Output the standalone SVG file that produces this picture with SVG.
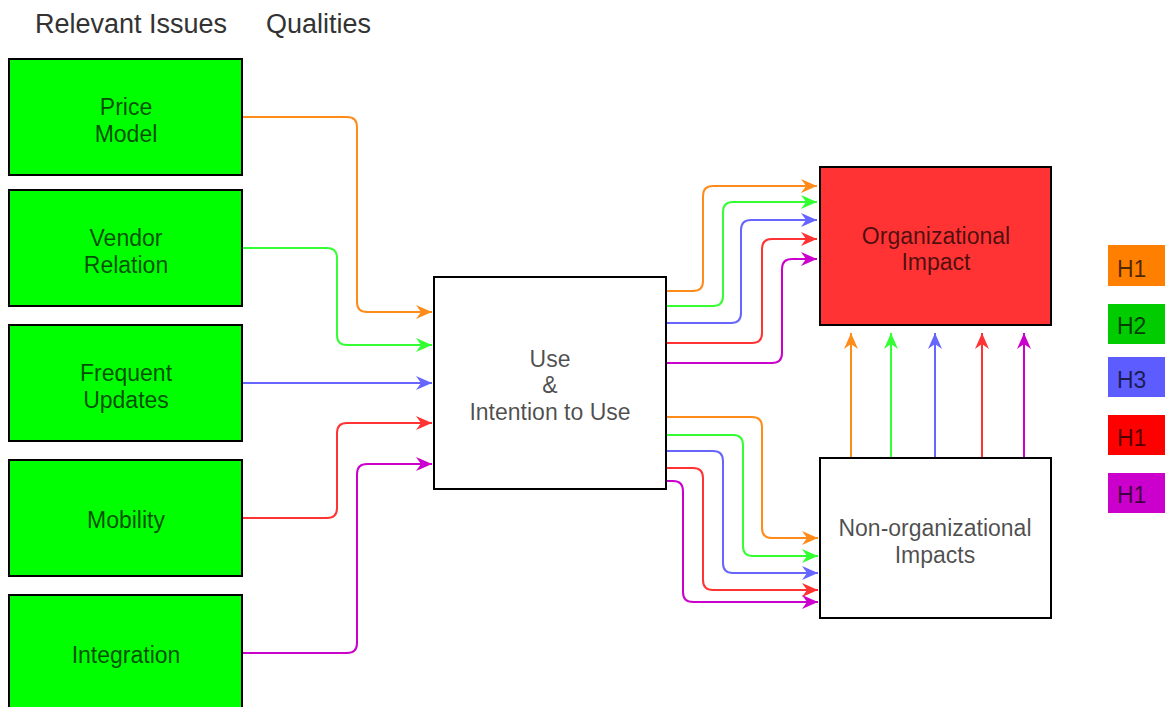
<svg xmlns="http://www.w3.org/2000/svg" width="1165" height="707" viewBox="0 0 1165 707">
<style>
.box{stroke:#000;stroke-width:2}
.g{fill:#00FF00}
.w{fill:#FFFFFF}
.t{font-family:"Liberation Sans",Arial,sans-serif;font-size:23px;fill:#000;fill-opacity:0.7;text-anchor:middle}
.h{font-family:"Liberation Sans",Arial,sans-serif;font-size:27px;fill:#333}
.lg{font-family:"Liberation Sans",Arial,sans-serif;font-size:23px;fill:#000;fill-opacity:0.7}
.c{fill:none;stroke-width:2}
.o{stroke:#FF8C1A}.gr{stroke:#33FF33}.b{stroke:#6666FF}.r{stroke:#FF3333}.p{stroke:#CC00CC}
</style>
<defs>
<marker id="ao" markerUnits="userSpaceOnUse" markerWidth="17" markerHeight="15" refX="16" refY="7" orient="auto"><path d="M0,0 L16,7 L0,14 L5,7 Z" fill="#FF8C1A"/></marker>
<marker id="ag" markerUnits="userSpaceOnUse" markerWidth="17" markerHeight="15" refX="16" refY="7" orient="auto"><path d="M0,0 L16,7 L0,14 L5,7 Z" fill="#33FF33"/></marker>
<marker id="ab" markerUnits="userSpaceOnUse" markerWidth="17" markerHeight="15" refX="16" refY="7" orient="auto"><path d="M0,0 L16,7 L0,14 L5,7 Z" fill="#6666FF"/></marker>
<marker id="ar" markerUnits="userSpaceOnUse" markerWidth="17" markerHeight="15" refX="16" refY="7" orient="auto"><path d="M0,0 L16,7 L0,14 L5,7 Z" fill="#FF3333"/></marker>
<marker id="ap" markerUnits="userSpaceOnUse" markerWidth="17" markerHeight="15" refX="16" refY="7" orient="auto"><path d="M0,0 L16,7 L0,14 L5,7 Z" fill="#CC00CC"/></marker>
</defs>
<rect width="1165" height="707" fill="#FFFFFF"/>
<g id="headers">
<text class="h" x="35" y="33">Relevant Issues</text>
<text class="h" x="266" y="33">Qualities</text>
</g>
<g id="connectors">
<path class="c o" d="M242,117 H347 Q357,117 357,127 V302 Q357,312 367,312 H432" marker-end="url(#ao)"/>
<path class="c gr" d="M242,248 H327 Q337,248 337,258 V335 Q337,345 347,345 H432" marker-end="url(#ag)"/>
<path class="c b" d="M242,383 H432" marker-end="url(#ab)"/>
<path class="c r" d="M242,518 H327 Q337,518 337,508 V433 Q337,423 347,423 H432" marker-end="url(#ar)"/>
<path class="c p" d="M242,653 H347 Q357,653 357,643 V474 Q357,464 367,464 H432" marker-end="url(#ap)"/>
<path class="c o" d="M666,291 H693 Q703,291 703,281 V196 Q703,186 713,186 H817" marker-end="url(#ao)"/>
<path class="c gr" d="M666,306 H713 Q723,306 723,296 V212 Q723,202 733,202 H817" marker-end="url(#ag)"/>
<path class="c b" d="M666,323 H731 Q741,323 741,313 V230 Q741,220 751,220 H817" marker-end="url(#ab)"/>
<path class="c r" d="M666,343 H752 Q762,343 762,333 V249 Q762,239 772,239 H817" marker-end="url(#ar)"/>
<path class="c p" d="M666,363 H772 Q782,363 782,353 V269 Q782,259 792,259 H817" marker-end="url(#ap)"/>
<path class="c o" d="M666,417 H752 Q762,417 762,427 V528 Q762,538 772,538 H818" marker-end="url(#ao)"/>
<path class="c gr" d="M666,435 H733 Q743,435 743,445 V546 Q743,556 753,556 H818" marker-end="url(#ag)"/>
<path class="c b" d="M666,451 H713 Q723,451 723,461 V563 Q723,573 733,573 H818" marker-end="url(#ab)"/>
<path class="c r" d="M666,468 H693 Q703,468 703,478 V580 Q703,590 713,590 H818" marker-end="url(#ar)"/>
<path class="c p" d="M666,481 H673 Q683,481 683,491 V592 Q683,602 693,602 H818" marker-end="url(#ap)"/>
<path class="c o" d="M851,458 V333" marker-end="url(#ao)"/>
<path class="c gr" d="M891,458 V333" marker-end="url(#ag)"/>
<path class="c b" d="M935,458 V333" marker-end="url(#ab)"/>
<path class="c r" d="M982,458 V333" marker-end="url(#ar)"/>
<path class="c p" d="M1024,458 V333" marker-end="url(#ap)"/>
</g>
<g id="price-model">
<rect class="box g" x="9" y="59" width="233" height="116"/>
<text class="t" x="126" y="115">Price</text>
<text class="t" x="126" y="142">Model</text>
</g>
<g id="vendor-relation">
<rect class="box g" x="9" y="190" width="233" height="116"/>
<text class="t" x="126" y="246">Vendor</text>
<text class="t" x="126" y="273">Relation</text>
</g>
<g id="frequent-updates">
<rect class="box g" x="9" y="325" width="233" height="116"/>
<text class="t" x="126" y="381">Frequent</text>
<text class="t" x="126" y="408">Updates</text>
</g>
<g id="mobility">
<rect class="box g" x="9" y="460" width="233" height="116"/>
<text class="t" x="126" y="528">Mobility</text>
</g>
<g id="integration">
<rect class="box g" x="9" y="595" width="233" height="118"/>
<text class="t" x="126" y="663">Integration</text>
</g>
<g id="use">
<rect class="box w" x="434" y="277" width="232" height="212"/>
<text class="t" x="550" y="367">Use</text>
<text class="t" x="550" y="393">&amp;</text>
<text class="t" x="550" y="420">Intention to Use</text>
</g>
<g id="org-impact">
<rect class="box" fill="#FF3333" x="820" y="167" width="231" height="158"/>
<text class="t" x="936" y="244">Organizational</text>
<text class="t" x="936" y="270">Impact</text>
</g>
<g id="nonorg-impacts">
<rect class="box w" x="820" y="458" width="231" height="160"/>
<text class="t" x="935" y="536">Non-organizational</text>
<text class="t" x="935" y="563">Impacts</text>
</g>
<g id="legend">
<rect x="1108" y="245" width="57" height="41" fill="#FF8000"/>
<text class="lg" x="1117" y="277">H1</text>
<rect x="1108" y="304" width="57" height="40" fill="#00CC00"/>
<text class="lg" x="1117" y="334">H2</text>
<rect x="1108" y="357" width="57" height="40" fill="#5C5CFF"/>
<text class="lg" x="1117" y="388">H3</text>
<rect x="1108" y="415" width="57" height="40" fill="#FF0000"/>
<text class="lg" x="1117" y="446">H1</text>
<rect x="1108" y="473" width="57" height="40" fill="#CC00CC"/>
<text class="lg" x="1117" y="503">H1</text>
</g>
</svg>
